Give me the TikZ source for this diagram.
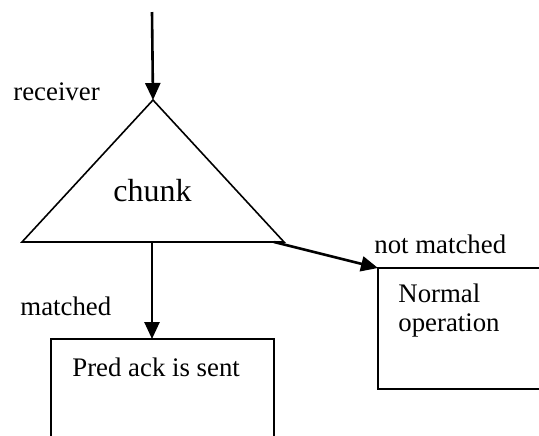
\documentclass[tikz,border=0pt]{standalone}
\usepackage{fontspec}
\setmainfont{Liberation Serif}
\usetikzlibrary{arrows.meta}
\tikzset{
  flow/.style={line width=1.3pt, -{Triangle[length=8.5pt,width=7.5pt]}},
  edge line/.style={line width=0.8pt},
  lbl/.style={font=\fontsize{13.4}{14.5}\selectfont, inner sep=0pt, anchor=base west, align=left},
}
\begin{document}
\begin{tikzpicture}[x=0.5pt,y=-0.5pt]
    \clip (0,0) rectangle (539,435);
    % triangle
    \coordinate (top) at (152,12);
    \coordinate (apex) at (153,100);
    \coordinate (bl) at (22,242);
    \coordinate (br) at (284,242);
    \coordinate (bm) at (152,242);
    \coordinate (bout) at (274,242);
    \draw[edge line] (apex) -- (bl) -- (br) -- cycle;
    \node[font=\fontsize{16}{19}\selectfont, inner sep=0pt, anchor=base] (chunk) at (152.5,201) {chunk};
    \node[lbl] (recv) at (13,100) {receiver};
    % boxes
    \coordinate (pred) at (51,339);
    \coordinate (predtop) at (152,339);
    \draw[edge line] (pred) rectangle ++(223,140);
    \node[lbl] (predtxt) at (72,376) {Pred ack is sent};
    \coordinate (norm) at (378,268);
    \draw[edge line] (norm) rectangle (570,389);
    \node[lbl] (normtxt) at (398,331.7) {Normal\\operation};
    % arrows
    \draw[flow] (top) -- (apex);
    \draw[flow] (bm) -- (predtop);
    \node[lbl] (match) at (20,315) {matched};
    \draw[flow] (bout) -- (norm);
    \node[lbl] (nomatch) at (374,253) {not matched};
\end{tikzpicture}
\end{document}
